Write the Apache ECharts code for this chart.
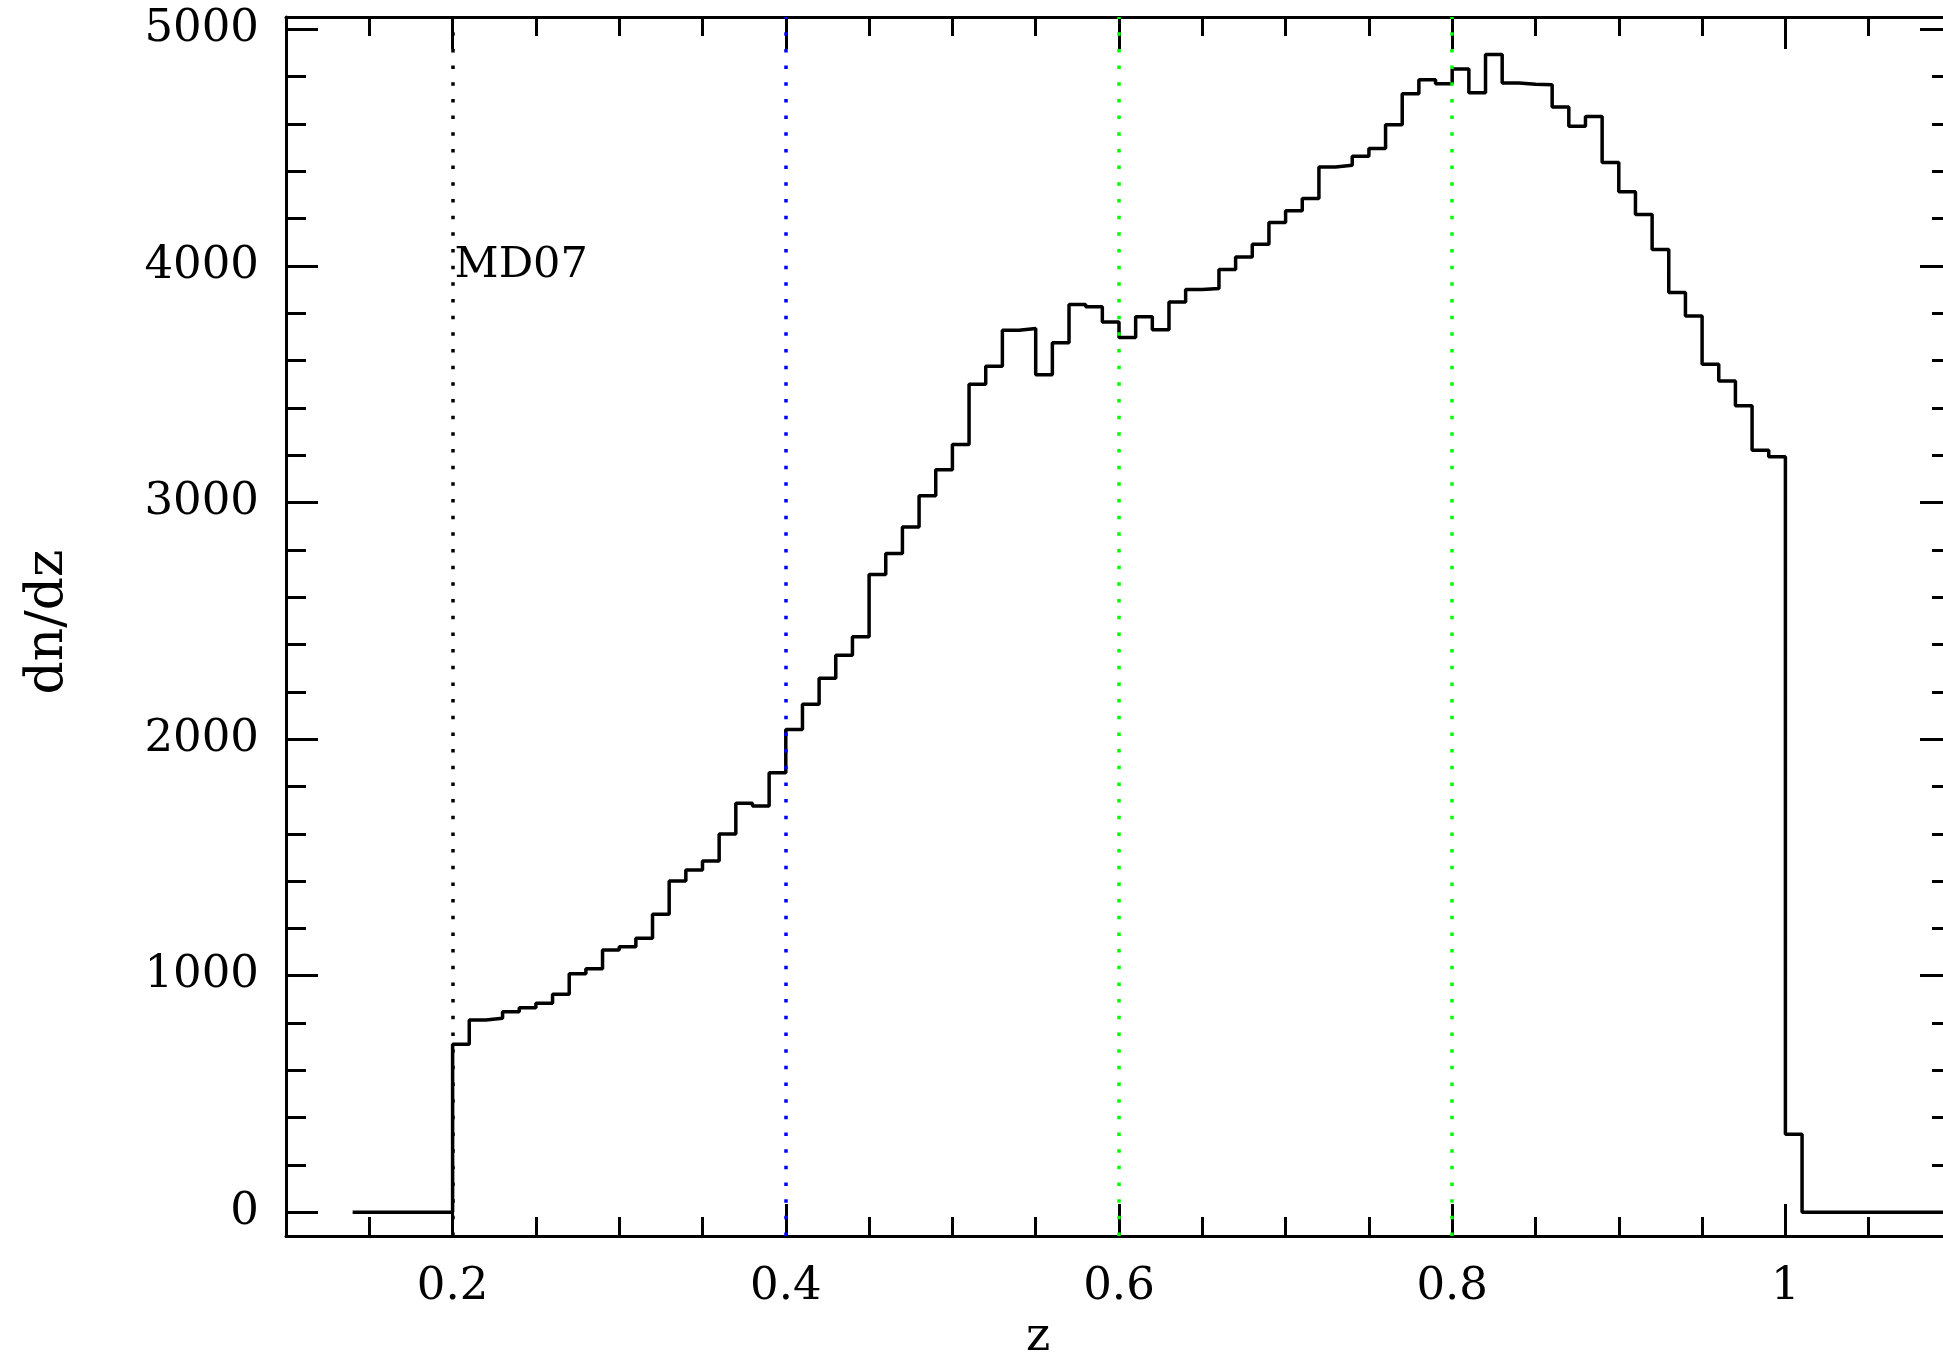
<!DOCTYPE html>
<html><head><meta charset="utf-8">
<script src="https://cdn.jsdelivr.net/npm/echarts@6/dist/echarts.min.js"></script>
<style>html,body{margin:0;padding:0;background:#fff}#c{width:1943px;height:1357px}</style>
</head><body><div id="c"></div>
<script>
// ---- data (bin left edges in z, and dn/dz value of each bin) ----
const zEdges = [0.14,
  0.20,0.21,0.22,0.23,0.24,0.25,0.26,0.27,0.28,0.29,
  0.30,0.31,0.32,0.33,0.34,0.35,0.36,0.37,0.38,0.39,
  0.40,0.41,0.42,0.43,0.44,0.45,0.46,0.47,0.48,0.49,
  0.50,0.51,0.52,0.53,0.54,0.55,0.56,0.57,0.58,0.59,
  0.60,0.61,0.62,0.63,0.64,0.65,0.66,0.67,0.68,0.69,
  0.70,0.71,0.72,0.73,0.74,0.75,0.76,0.77,0.78,0.79,
  0.80,0.81,0.82,0.83,0.84,0.85,0.86,0.87,0.88,0.89,
  0.90,0.91,0.92,0.93,0.94,0.95,0.96,0.97,0.98,0.99,
  1.00, 1.01, 1.10];
const dndz = [0,
  710,813,820,848,865,884,922,1008,1030,1109,
  1123,1158,1260,1400,1447,1485,1599,1729,1717,1858,
  2041,2147,2257,2355,2433,2696,2785,2897,3029,3138,
  3245,3500,3576,3728,3735,3540,3675,3837,3827,3763,
  3697,3785,3730,3848,3900,3905,3985,4038,4092,4183,
  4233,4285,4418,4425,4463,4496,4597,4728,4787,4770,
  4832,4732,4893,4773,4768,4766,4672,4590,4632,4437,
  4313,4217,4069,3888,3788,3584,3514,3409,3221,3193,
  330, 0, 0];
const xMajorTicks = [0.2,0.4,0.6,0.8,1.0];
const xMinorTicks = [0.1,0.15,0.2,0.25,0.3,0.35,0.4,0.45,0.5,0.55,0.6,0.65,0.7,0.75,0.8,0.85,0.9,0.95,1.0,1.05,1.1];
const yMajorTicks = [0,1000,2000,3000,4000,5000];
const yMinorTicks = [0,200,400,600,800,1000,1200,1400,1600,1800,2000,2200,2400,2600,2800,3000,3200,3400,3600,3800,4000,4200,4400,4600,4800,5000];
const markerZ = [0.2,0.4,0.6,0.8];
const markerColor = ['#000000','#0000ff','#00ff00','#00ff00'];
const noteText = 'MD07';
const notePos = [0.2, 4000];

// ---- chart ----
const FONT = 'DejaVu Serif';
const X_MIN = 0.1, X_MAX = 1.1, Y_MIN = -100, Y_MAX = 5052;

function xAx(position, ticks, len, line, labels) {
  return {
    type: 'value', position: position, min: X_MIN, max: X_MAX,
    splitLine: {show: false},
    axisLine: {show: line, onZero: false, lineStyle: {color: '#000', width: 3}},
    axisTick: {show: true, inside: true, length: len, customValues: ticks, lineStyle: {color: '#000', width: 3}},
    axisLabel: {show: labels, customValues: xMajorTicks, margin: 29, color: '#000',
      fontFamily: FONT, fontSize: 45, formatter: v => String(v)}
  };
}
function yAx(position, ticks, len, line, labels) {
  return {
    type: 'value', position: position, min: Y_MIN, max: Y_MAX,
    splitLine: {show: false},
    axisLine: {show: line, onZero: false, lineStyle: {color: '#000', width: 3}},
    axisTick: {show: true, inside: true, length: len, customValues: ticks, lineStyle: {color: '#000', width: 3}},
    axisLabel: {show: labels, customValues: yMajorTicks, margin: 27, color: '#000',
      fontFamily: FONT, fontSize: 45, formatter: v => String(v)}
  };
}

const chart = echarts.init(document.getElementById('c'));
chart.setOption({
  animation: false,
  backgroundColor: '#fff',
  grid: {left: 286, width: 1666, top: 17, height: 1219, containLabel: false, outerBoundsMode: 'none'},
  xAxis: [
    xAx('bottom', xMinorTicks, 19, true, true),
    xAx('bottom', xMajorTicks, 32, false, false),
    xAx('top', xMinorTicks, 19, true, false),
    xAx('top', xMajorTicks, 32, false, false)
  ],
  yAxis: [
    yAx('left', yMinorTicks, 20, true, true),
    yAx('left', yMajorTicks, 32, false, false),
    yAx('right', yMinorTicks, 20, true, false),
    yAx('right', yMajorTicks, 32, false, false)
  ],
  graphic: [
    {type: 'text', x: 1038, y: 1338, style: {text: 'z', font: '46px "DejaVu Serif"', fill: '#000', align: 'center', verticalAlign: 'middle'}},
    {type: 'text', x: 48, y: 622, rotation: Math.PI / 2, style: {text: 'dn/dz', font: '52px "DejaVu Serif"', fill: '#000', align: 'center', verticalAlign: 'middle'}}
  ],
  series: [{
    type: 'line', xAxisIndex: 0, yAxisIndex: 0,
    data: zEdges.map((z, i) => [z, dndz[i]]),
    step: 'end', showSymbol: false, symbol: 'none',
    lineStyle: {color: '#000', width: 3.5},
    markLine: {
      silent: true, symbol: ['none', 'none'], label: {show: false},
      lineStyle: {type: [3.5, 13.17], width: 3.5, cap: 'butt'},
      data: markerZ.map((z, i) => ({xAxis: z, lineStyle: {color: markerColor[i], type: [3.5, 13.17], width: 3.5}}))
    },
    markPoint: {
      symbol: 'circle', symbolSize: 0, silent: true,
      data: [{coord: notePos, value: noteText}],
      label: {show: true, position: 'right', distance: 2, formatter: noteText,
        fontFamily: FONT, fontSize: 43, color: '#000'}
    }
  }]
});
</script></body></html>
